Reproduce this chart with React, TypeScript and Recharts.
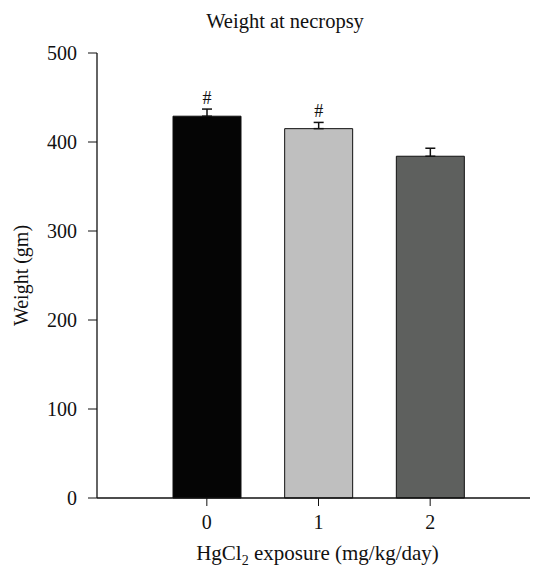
import React from 'react';
import { BarChart, Bar, XAxis, YAxis, Cell, ErrorBar, LabelList, Label } from 'recharts';

// Weight at necropsy by HgCl2 dose
const doses = ['0', '1', '2'];
const weights = [429, 415, 384];
const errors = [8, 7, 9];
const marks = ['#', '#', ''];
const yTicks = [0, 100, 200, 300, 400, 500];

const COLORS = ['#050505', '#bfbfbf', '#5e605e'];
const FONT = '"Liberation Serif", "DejaVu Serif", serif';

const data = doses.map((d, i) => ({
  dose: d,
  weight: weights[i],
  err: [0, errors[i]],
  mark: marks[i],
}));

// draws "#" a little above the error cap, using the bar's own px/unit
const MarkLabel = (props: any) => {
  const { x, y, width, height, index, value } = props;
  if (!value) return null;
  const perUnit = height / weights[index];
  const capY = y - errors[index] * perUnit;
  return (
    <text x={x + width / 2} y={capY - 5} textAnchor="middle" fontFamily={FONT} fontSize={18} fill="#111">
      {value}
    </text>
  );
};

const XTitle = (props: any) => {
  const { viewBox } = props;
  const cx = viewBox.x + viewBox.width / 2;
  return (
    <text x={cx} y={viewBox.y + 62} textAnchor="middle" fontFamily={FONT} fontSize={21} fill="#111">
      HgCl<tspan fontSize={14} dy={5}>2</tspan>
      <tspan dy={-5}> exposure (mg/kg/day)</tspan>
    </text>
  );
};

export default function App() {
  return (
    <div style={{ position: 'relative', width: 530, height: 560 }}>
      <div
        style={{
          position: 'absolute',
          left: 0,
          top: 2,
          width: 554,
          textAlign: 'center',
          fontFamily: FONT,
          fontSize: 20.5,
          color: '#111',
        }}
      >
        Weight at necropsy
      </div>
      <BarChart
        width={530}
        height={560}
        data={data}
        margin={{ top: 45, right: 0, bottom: 0, left: 0 }}
        barCategoryGap={22}
      >
        <XAxis
          dataKey="dose"
          padding={{ left: 54, right: 52 }}
          axisLine={{ stroke: '#111', strokeWidth: 1.3 }}
          tickLine={{ stroke: '#111' }}
          tickSize={8}
          tickMargin={9}
          tick={{ fontFamily: FONT, fontSize: 20, fill: '#111' }}
          height={70}
        >
          <Label content={<XTitle />} />
        </XAxis>
        <YAxis
          width={89}
          domain={[0, 500]}
          ticks={yTicks}
          interval={0}
          axisLine={{ stroke: '#111', strokeWidth: 1.3 }}
          tickLine={{ stroke: '#111' }}
          tickSize={9}
          tickMargin={11}
          tick={{ fontFamily: FONT, fontSize: 20, fill: '#111' }}
        >
          <Label
            value="Weight (gm)"
            angle={-90}
            position="insideLeft"
            offset={13}
            style={{ fontFamily: FONT, fontSize: 20, fill: '#111', textAnchor: 'middle' }}
          />
        </YAxis>
        <Bar dataKey="weight" stroke="#111" strokeWidth={1} isAnimationActive={false}>
          {data.map((_, i) => (
            <Cell key={`c-${i}`} fill={COLORS[i]} />
          ))}
          <ErrorBar dataKey="err" width={5} stroke="#111" strokeWidth={1.5} direction="y" />
          <LabelList dataKey="mark" content={<MarkLabel />} />
        </Bar>
      </BarChart>
    </div>
  );
}
